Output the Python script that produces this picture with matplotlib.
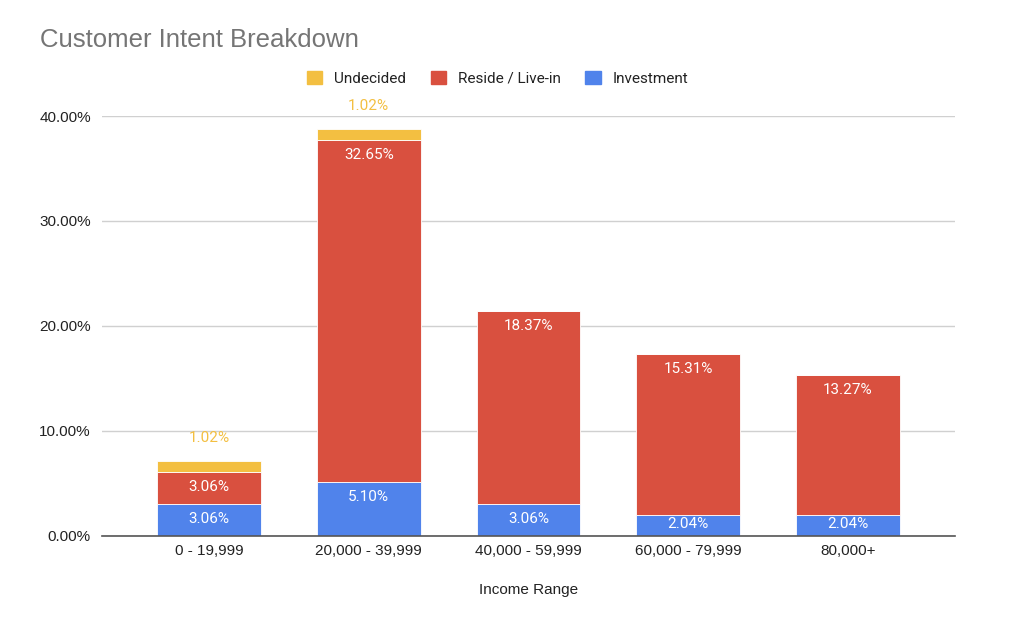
import matplotlib
matplotlib.use("Agg")
import matplotlib.pyplot as plt
from matplotlib.patches import Patch

# data (percent of customers)
ranges = ["0 - 19,999", "20,000 - 39,999", "40,000 - 59,999", "60,000 - 79,999", "80,000+"]
investment = [3.06, 5.10, 3.06, 2.04, 2.04]
reside = [3.06, 32.65, 18.37, 15.31, 13.27]
undecided = [1.02, 1.02, 0, 0, 0]

blue = "#5083EB"
red = "#D9503F"
yellow = "#F3BF41"

plt.rcParams['font.family'] = ['Roboto', 'DejaVu Sans']

fig = plt.figure(figsize=(10.24, 6.2), dpi=100)
ax = fig.add_axes([0.0996, 0.1355, 0.8330, 0.6774])

x = list(range(len(ranges)))
w = 0.65
ax.bar(x, investment, width=w, color=blue, edgecolor="white", linewidth=0.6, zorder=3)
ax.bar(x, reside, width=w, bottom=investment, color=red, edgecolor="white", linewidth=0.6, zorder=3)
bottom2 = [a + b for a, b in zip(investment, reside)]
ax.bar(x, undecided, width=w, bottom=bottom2, color=yellow, edgecolor="white", linewidth=0.6, zorder=3)

ax.set_xlim(-0.67, 4.67)
ax.set_ylim(0, 40)

# pixel height of one percent, for putting labels near segment tops
px_per_unit = 0.6774 * 620 / 40.0


def inside_offset(h):
    # points below top of segment, no deeper than a bit above its middle
    hp = h * px_per_unit
    off = min(15, hp / 2 - 1)
    return -off * 72 / 100


for i in x:
    ax.annotate(f"{investment[i]:.2f}%", (i, investment[i]),
                xytext=(0, inside_offset(investment[i])),
                textcoords="offset points", ha="center", va="center",
                color="white", fontsize=11, zorder=4)
    ax.annotate(f"{reside[i]:.2f}%", (i, bottom2[i]),
                xytext=(0, inside_offset(reside[i])),
                textcoords="offset points", ha="center", va="center",
                color="white", fontsize=11, zorder=4)
    if undecided[i] > 0:
        ax.annotate(f"{undecided[i]:.2f}%", (i, bottom2[i] + undecided[i]), xytext=(0, 16.5),
                    textcoords="offset points", ha="center", va="center",
                    color=yellow, fontsize=11, zorder=4, annotation_clip=False)

ax.set_yticks([0, 10, 20, 30, 40])
ax.set_yticklabels([f"{v:.2f}%" for v in [0, 10, 20, 30, 40]],
                   family=['Liberation Sans', 'DejaVu Sans'])
ax.set_xticks(x)
ax.set_xticklabels(ranges, family=['Liberation Sans', 'DejaVu Sans'])
ax.tick_params(axis="both", length=0, labelsize=11, labelcolor="#222222")
ax.tick_params(axis="x", pad=6)
ax.tick_params(axis="y", pad=8)

ax.grid(axis="y", color="#d0d0d0", linewidth=1, zorder=0)
for s in ["top", "right", "left"]:
    ax.spines[s].set_visible(False)
ax.spines["bottom"].set_color("#555555")
ax.spines["bottom"].set_linewidth(1.2)
ax.spines["bottom"].set_zorder(5)

ax.set_xlabel("Income Range", fontsize=11, color="#222222", labelpad=18,
              family=['Liberation Sans', 'DejaVu Sans'])

fig.text(0.039, 0.936, "Customer Intent Breakdown", fontsize=18.5, color="#757575",
         ha="left", va="center", family=['Liberation Sans', 'DejaVu Sans'])

handles = [Patch(color=yellow, label="Undecided"),
           Patch(color=red, label="Reside / Live-in"),
           Patch(color=blue, label="Investment")]
fig.legend(handles=handles, loc="center", bbox_to_anchor=(0.486, 0.874), ncol=3,
           frameon=False, fontsize=11, handlelength=1.0, handleheight=1.0,
           columnspacing=1.6, handletextpad=0.8, labelcolor="#222222")

fig.savefig("out.png", dpi=100)
